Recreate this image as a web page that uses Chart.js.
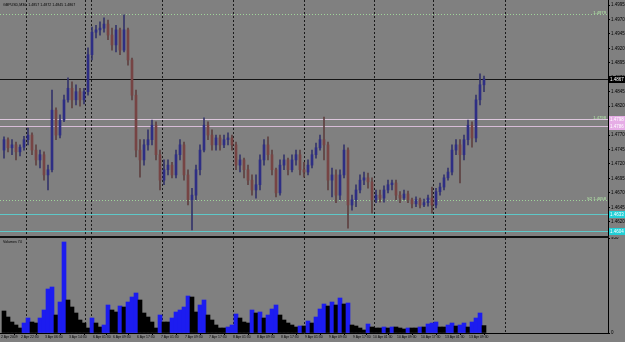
<!DOCTYPE html>
<html lang="en">
<head>
    <meta charset="UTF-8"/>
    <script src="https://cdn.jsdelivr.net/npm/chart.js@4.4.0/dist/chart.umd.min.js"></script>
    <title>GBPUSD,M30</title>
    <style>
        html, body { margin: 0; padding: 0; background: #808080; }
        #wrap { position: relative; width: 625px; height: 342px; overflow: hidden; }
        canvas { position: absolute; left: 0; }
        #priceChart { top: 0; }
        #volChart { top: 237px; }
    </style>
</head>
<body>
<div id="wrap">
    <canvas id="priceChart" width="625" height="237"></canvas>
    <canvas id="volChart" width="625" height="105"></canvas>
</div>
<script>
    const symbol = 'GBPUSD,M30';

    // candles, oldest first
    const opens = [1.4744, 1.4762, 1.4748, 1.4753, 1.4741, 1.4749, 1.4762, 1.4770, 1.4744, 1.4727,
        1.4736, 1.4701, 1.4710, 1.4813, 1.4770, 1.4796, 1.4831, 1.4851, 1.4831, 1.4845,
        1.4831, 1.4845, 1.4909, 1.4948, 1.4952, 1.4955, 1.4962, 1.4943, 1.4926, 1.4952,
        1.4917, 1.4952, 1.4900, 1.4839, 1.4744, 1.4727, 1.4753, 1.4762, 1.4787, 1.4736,
        1.4692, 1.4710, 1.4718, 1.4701, 1.4736, 1.4753, 1.4701, 1.4658, 1.4666, 1.4710,
        1.4744, 1.4787, 1.4770, 1.4753, 1.4765, 1.4753, 1.4762, 1.4765, 1.4753, 1.4718,
        1.4727, 1.4710, 1.4692, 1.4675, 1.4684, 1.4727, 1.4753, 1.4736, 1.4710, 1.4670,
        1.4718, 1.4727, 1.4710, 1.4727, 1.4736, 1.4710, 1.4706, 1.4718, 1.4736, 1.4748,
        1.4762, 1.4753, 1.4692, 1.4701, 1.4666, 1.4701, 1.4744, 1.4649, 1.4658, 1.4675,
        1.4692, 1.4696, 1.4689, 1.4658, 1.4666, 1.4661, 1.4675, 1.4684, 1.4687, 1.4666,
        1.4661, 1.4668, 1.4658, 1.4651, 1.4658, 1.4649, 1.4653, 1.4661, 1.4649, 1.4672,
        1.4680, 1.4696, 1.4706, 1.4744, 1.4753, 1.4736, 1.4762, 1.4787, 1.4765, 1.4831,
        1.4857];
    const highs = [1.4767, 1.4765, 1.4762, 1.4758, 1.4753, 1.4768, 1.4782, 1.4774, 1.4753, 1.4744,
        1.4741, 1.4718, 1.4848, 1.4817, 1.4805, 1.4839, 1.4869, 1.4862, 1.4857, 1.4851,
        1.4851, 1.4921, 1.4957, 1.4960, 1.4966, 1.4973, 1.4969, 1.4955, 1.4960, 1.4955,
        1.4978, 1.4955, 1.4903, 1.4848, 1.4762, 1.4762, 1.4779, 1.4796, 1.4793, 1.4744,
        1.4727, 1.4727, 1.4723, 1.4744, 1.4762, 1.4758, 1.4710, 1.4678, 1.4718, 1.4753,
        1.4800, 1.4793, 1.4779, 1.4770, 1.4770, 1.4770, 1.4774, 1.4770, 1.4758, 1.4736,
        1.4730, 1.4718, 1.4701, 1.4701, 1.4736, 1.4762, 1.4767, 1.4744, 1.4713, 1.4727,
        1.4736, 1.4730, 1.4736, 1.4744, 1.4744, 1.4723, 1.4727, 1.4744, 1.4756, 1.4770,
        1.4801, 1.4758, 1.4713, 1.4710, 1.4710, 1.4753, 1.4748, 1.4666, 1.4684, 1.4701,
        1.4706, 1.4704, 1.4696, 1.4675, 1.4675, 1.4682, 1.4692, 1.4692, 1.4692, 1.4672,
        1.4675, 1.4673, 1.4661, 1.4663, 1.4661, 1.4659, 1.4666, 1.4680, 1.4678, 1.4687,
        1.4701, 1.4713, 1.4753, 1.4762, 1.4762, 1.4770, 1.4796, 1.4793, 1.4839, 1.4876,
        1.4872];
    const lows = [1.4730, 1.4741, 1.4736, 1.4727, 1.4734, 1.4744, 1.4753, 1.4736, 1.4718, 1.4713,
        1.4692, 1.4675, 1.4706, 1.4762, 1.4765, 1.4793, 1.4827, 1.4817, 1.4822, 1.4820,
        1.4824, 1.4839, 1.4900, 1.4938, 1.4943, 1.4948, 1.4935, 1.4917, 1.4914, 1.4909,
        1.4914, 1.4891, 1.4831, 1.4732, 1.4697, 1.4718, 1.4744, 1.4753, 1.4727, 1.4675,
        1.4684, 1.4701, 1.4696, 1.4696, 1.4727, 1.4692, 1.4649, 1.4606, 1.4658, 1.4701,
        1.4741, 1.4762, 1.4744, 1.4744, 1.4744, 1.4748, 1.4753, 1.4744, 1.4710, 1.4706,
        1.4696, 1.4684, 1.4666, 1.4661, 1.4675, 1.4718, 1.4727, 1.4701, 1.4663, 1.4666,
        1.4710, 1.4701, 1.4706, 1.4718, 1.4701, 1.4697, 1.4701, 1.4713, 1.4730, 1.4744,
        1.4727, 1.4675, 1.4663, 1.4653, 1.4658, 1.4696, 1.4609, 1.4640, 1.4646, 1.4670,
        1.4684, 1.4678, 1.4635, 1.4653, 1.4654, 1.4654, 1.4670, 1.4675, 1.4658, 1.4653,
        1.4658, 1.4653, 1.4644, 1.4646, 1.4644, 1.4646, 1.4647, 1.4635, 1.4644, 1.4666,
        1.4675, 1.4692, 1.4701, 1.4736, 1.4687, 1.4727, 1.4753, 1.4749, 1.4758, 1.4822,
        1.4845];
    const closes = [1.4762, 1.4748, 1.4753, 1.4741, 1.4749, 1.4762, 1.4770, 1.4744, 1.4727, 1.4736,
        1.4701, 1.4710, 1.4813, 1.4770, 1.4796, 1.4831, 1.4851, 1.4831, 1.4845, 1.4831,
        1.4845, 1.4909, 1.4948, 1.4952, 1.4955, 1.4962, 1.4943, 1.4926, 1.4952, 1.4917,
        1.4952, 1.4900, 1.4839, 1.4744, 1.4727, 1.4753, 1.4762, 1.4787, 1.4736, 1.4692,
        1.4710, 1.4718, 1.4701, 1.4736, 1.4753, 1.4701, 1.4658, 1.4666, 1.4710, 1.4744,
        1.4787, 1.4770, 1.4753, 1.4765, 1.4753, 1.4762, 1.4765, 1.4753, 1.4718, 1.4727,
        1.4710, 1.4692, 1.4675, 1.4684, 1.4727, 1.4753, 1.4736, 1.4710, 1.4670, 1.4718,
        1.4727, 1.4710, 1.4727, 1.4736, 1.4710, 1.4706, 1.4718, 1.4736, 1.4748, 1.4762,
        1.4753, 1.4692, 1.4701, 1.4666, 1.4701, 1.4744, 1.4649, 1.4658, 1.4675, 1.4692,
        1.4696, 1.4689, 1.4658, 1.4666, 1.4661, 1.4675, 1.4684, 1.4687, 1.4666, 1.4661,
        1.4668, 1.4658, 1.4651, 1.4658, 1.4649, 1.4653, 1.4661, 1.4649, 1.4672, 1.4680,
        1.4696, 1.4706, 1.4744, 1.4753, 1.4736, 1.4762, 1.4787, 1.4765, 1.4831, 1.4857,
        1.4867];
    const volumes = [220, 160, 110, 80, 50, 100, 150, 110, 100, 150,
        230, 440, 460, 180, 310, 910, 330, 260, 200, 130,
        100, 50, 150, 100, 60, 80, 280, 230, 210, 270,
        260, 310, 360, 400, 330, 200, 160, 110, 50, 180,
        110, 110, 150, 210, 230, 260, 370, 360, 210, 280,
        330, 180, 130, 80, 50, 50, 60, 80, 190, 150,
        110, 100, 230, 200, 210, 150, 180, 240, 280, 180,
        130, 100, 80, 60, 70, 70, 120, 100, 160, 240,
        290, 270, 310, 280, 350, 290, 300, 80, 70, 50,
        30, 90, 60, 50, 50, 60, 50, 60, 60, 50,
        40, 50, 50, 50, 60, 60, 90, 100, 110, 60,
        60, 80, 100, 70, 80, 100, 60, 110, 150, 200,
        74];

    // time axis: label text and the bar it belongs to
    const timeLabels = ['2 Apr 2009', '2 Apr 22:30', '3 Apr 06:30', '3 Apr 14:30', '6 Apr 01:30',
        '6 Apr 09:30', '6 Apr 17:30', '7 Apr 01:30', '7 Apr 09:30', '7 Apr 17:30', '8 Apr 01:30',
        '8 Apr 09:30', '8 Apr 17:30', '9 Apr 01:30', '9 Apr 09:30', '9 Apr 17:30', '10 Apr 01:30',
        '10 Apr 09:30', '10 Apr 17:30', '13 Apr 01:30', '13 Apr 09:30'];
    const labelBars = [0, 5, 11, 17, 23, 28, 34, 40, 46, 52, 58, 64, 70, 76, 82, 88, 93, 99, 105, 111, 117];
    // dotted period separators (in bars)
    const separatorBars = [5.5, 20.2, 21.7, 39.5, 57.2, 75, 92.5, 107.2, 125.2];

    const priceTicks = [1.4620, 1.4645, 1.4670, 1.4695, 1.4720, 1.4745, 1.4770, 1.4795,
        1.4820, 1.4845, 1.4870, 1.4895, 1.4920, 1.4945, 1.4970, 1.4995];
    const volumeTicks = [0, 950];

    // horizontal lines on the chart
    const levels = [1.4979, 1.4867, 1.4798, 1.4786, 1.4658, 1.4633, 1.4604];
    const levelTags = ['', '', '', '', 'S2', '', ''];

    // look of each line (same order as levels)
    const levelStyle = [
        {line: '#9fd49a', dash: [1, 2], text: '#b4eaa8'},
        {line: '#141414', box: '#000000', boxText: '#ffffff'},
        {line: '#dcc6dc', box: '#e6ade6', boxText: '#ffffff', text: '#b4eaa8'},
        {line: '#d8bcd8', box: '#e6ade6', boxText: '#ffffff'},
        {line: '#9fd49a', dash: [1, 2], text: '#b4eaa8'},
        {line: '#5ec8c8', box: '#22cfd6', boxText: '#ffffff'},
        {line: '#5ec8c8', box: '#22cfd6', boxText: '#ffffff'}
    ];

    const bull = '#2e2e84', bear = '#764444';
    const bullWick = '#34346a', bearWick = '#5e4040';
    const fam = '"Liberation Sans", Arial, sans-serif';

    Chart.defaults.font.family = fam;
    Chart.defaults.color = '#000';

    const up = closes.map((c, i) => c >= opens[i]);
    const volUp = volumes.map((v, i) => i > 0 && v > volumes[i - 1]);

    const xRange = {min: -1, max: 151};

    //dotted separators, both panes
    const separators = {
        id: 'separators',
        beforeDatasetsDraw(chart) {
            const {ctx, chartArea: a, scales} = chart;
            ctx.save();
            ctx.strokeStyle = '#1a1a1a';
            ctx.lineWidth = 1;
            ctx.setLineDash([2, 2]);
            separatorBars.forEach(b => {
                const x = Math.round(scales.x.getPixelForValue(b)) + 0.5;
                ctx.beginPath();
                ctx.moveTo(x, a.top);
                ctx.lineTo(x, a.bottom);
                ctx.stroke();
            });
            ctx.restore();
        }
    };

    //price lines + labels + title
    const priceDecor = {
        id: 'priceDecor',
        beforeDatasetsDraw(chart) {
            const {ctx, chartArea: a, scales} = chart;
            ctx.save();
            ctx.lineWidth = 1;
            levels.forEach((p, i) => {
                const st = levelStyle[i];
                const y = Math.round(scales.y.getPixelForValue(p)) + 0.5;
                ctx.strokeStyle = st.line;
                ctx.setLineDash(st.dash || []);
                ctx.beginPath();
                ctx.moveTo(a.left, y);
                ctx.lineTo(a.right, y);
                ctx.stroke();
            });
            ctx.restore();
        },
        afterDraw(chart) {
            const {ctx, chartArea: a, scales} = chart;
            ctx.save();
            ctx.textBaseline = 'middle';
            levels.forEach((p, i) => {
                const st = levelStyle[i];
                const y = Math.round(scales.y.getPixelForValue(p));
                if (st.text) {
                    ctx.font = '4.2px ' + fam;
                    ctx.fillStyle = st.text;
                    ctx.textAlign = 'right';
                    ctx.fillText(p.toFixed(4), a.right - 2, y - 1);
                    if (levelTags[i]) ctx.fillText(levelTags[i], a.right - 16, y - 1);
                }
                if (st.box) {
                    ctx.fillStyle = st.box;
                    ctx.fillRect(a.right + 1, y - 3, 17, 7);
                    ctx.font = '4.5px ' + fam;
                    ctx.fillStyle = st.boxText;
                    ctx.textAlign = 'left';
                    ctx.fillText(p.toFixed(4), a.right + 2, y + 0.5);
                }
            });
            // pane bottom edge
            ctx.fillStyle = '#111';
            ctx.fillRect(a.left, a.bottom - 1, a.right - a.left + 1, 1);
            // title
            const n = closes.length - 1;
            ctx.font = '3.6px ' + fam;
            ctx.fillStyle = '#000';
            ctx.textAlign = 'left';
            ctx.fillText(symbol + '  ' + [opens[n], highs[n], lows[n], closes[n]].map(v => v.toFixed(4)).join(' '), 3, 5);
            ctx.restore();
        }
    };

    const volDecor = {
        id: 'volDecor',
        afterDraw(chart) {
            const {ctx, chartArea: a} = chart;
            ctx.save();
            ctx.fillStyle = '#111';
            ctx.fillRect(a.left, 0, a.right - a.left + 1, 1);
            ctx.font = '3.6px ' + fam;
            ctx.fillStyle = '#000';
            ctx.textBaseline = 'middle';
            ctx.fillText('Volumes ' + volumes[volumes.length - 1], 3, a.top + 4);
            ctx.restore();
        }
    };

    const yFit = s => {
        s.width = 17;
        s.paddingTop = 0;
        s.paddingBottom = 0;
    };

    const priceChart = new Chart(document.getElementById('priceChart'), {
        type: 'bar',
        data: {
            datasets: [{
                label: 'body',
                data: opens.map((o, i) => ({x: i, y: [o, closes[i]]})),
                backgroundColor: up.map(u => u ? bull : bear),
                barThickness: 2,
                minBarLength: 1,
                grouped: false,
                order: 0
            }, {
                label: 'wick',
                data: lows.map((l, i) => ({x: i, y: [l, highs[i]]})),
                backgroundColor: up.map(u => u ? bullWick : bearWick),
                barThickness: 1,
                grouped: false,
                order: 1
            }]
        },
        options: {
            responsive: false,
            animation: false,
            devicePixelRatio: 1,
            layout: {padding: 0},
            plugins: {legend: {display: false}, tooltip: {enabled: false}},
            scales: {
                x: {type: 'linear', min: xRange.min, max: xRange.max, offset: false, display: false},
                y: {
                    position: 'right',
                    min: 1.45936,
                    max: 1.50037,
                    afterBuildTicks: s => { s.ticks = priceTicks.map(v => ({value: v})); },
                    afterFit: yFit,
                    ticks: {font: {size: 4.5}, color: '#000', padding: 1, autoSkip: false,
                        callback: v => v.toFixed(4)},
                    grid: {drawOnChartArea: false, tickLength: 2, color: '#000'},
                    border: {color: '#000'}
                }
            }
        },
        plugins: [separators, priceDecor]
    });

    const volChart = new Chart(document.getElementById('volChart'), {
        type: 'bar',
        data: {
            datasets: [{
                label: 'Volumes',
                data: volumes.map((v, i) => ({x: i, y: v})),
                backgroundColor: volUp.map(u => u ? '#1c1cf0' : '#000000'),
                barThickness: 4,
                grouped: false
            }]
        },
        options: {
            responsive: false,
            animation: false,
            devicePixelRatio: 1,
            layout: {padding: {top: 1, left: 0, right: 0, bottom: 0}},
            plugins: {legend: {display: false}, tooltip: {enabled: false}},
            scales: {
                x: {
                    type: 'linear', min: xRange.min, max: xRange.max, offset: false,
                    afterBuildTicks: s => { s.ticks = labelBars.map(v => ({value: v})); },
                    afterFit: s => {
                        s.height = 9;
                        s.paddingLeft = 0;
                        s.paddingRight = 0;
                    },
                    ticks: {autoSkip: false, maxRotation: 0, minRotation: 0, align: 'start', labelOffset: -3,
                        padding: 0, font: {size: 3.4}, color: '#000',
                        callback: (v, i) => timeLabels[i]},
                    grid: {drawOnChartArea: false, tickLength: 2, color: '#000'},
                    border: {color: '#000'}
                },
                y: {
                    position: 'right',
                    min: 0,
                    max: 950,
                    afterBuildTicks: s => { s.ticks = volumeTicks.map(v => ({value: v})); },
                    afterFit: yFit,
                    ticks: {font: {size: 4.5}, color: '#000', padding: 1, autoSkip: false},
                    grid: {drawOnChartArea: false, tickLength: 2, color: '#000'},
                    border: {color: '#000'}
                }
            }
        },
        plugins: [separators, volDecor]
    });
</script>
</body>
</html>
